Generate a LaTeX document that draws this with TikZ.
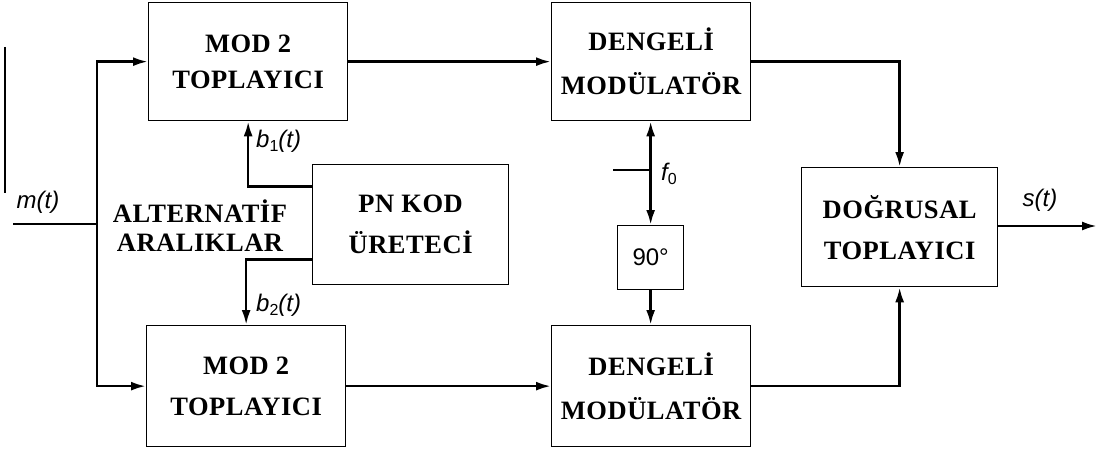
\documentclass[tikz,border=0pt]{standalone}
\usepackage{fontspec}
\setmainfont{Liberation Serif}
\newfontfamily\boxfont{Liberation Serif}[LetterSpace=2]
\newfontfamily\lab{Liberation Sans}
\usetikzlibrary{arrows.meta}
\begin{document}
\begin{tikzpicture}[x=1pt,y=-1pt,
  blk/.style={draw, line width=1.3pt, font=\boxfont\bfseries\fontsize{26.5}{41}\selectfont,
    align=center, inner sep=0pt, anchor=north west},
  wire/.style={line width=2.6pt},
  sig/.style={line width=2.6pt, -{Latex[length=15pt,width=9pt]}},
  lbl/.style={font=\lab\itshape\fontsize{24}{28}\selectfont, inner sep=0pt}]
\useasboundingbox (0,0) rectangle (1098,452);

% blocks
\node[blk, minimum width=199pt, minimum height=118pt] (m1) at (148,2) {MOD 2\\[-5pt]TOPLAYICI};
\node[blk, minimum width=199pt, minimum height=121pt] (m2) at (146,325) {MOD 2\\TOPLAYICI};
\node[blk, minimum width=196pt, minimum height=120pt] (pn) at (312,164) {PN KOD\\ÜRETECİ};
\node[blk, minimum width=199pt, minimum height=118pt] (d1) at (551,2) {DENGELİ\\[3pt]MODÜLATÖR};
\node[blk, minimum width=199pt, minimum height=121pt] (d2) at (551,325) {DENGELİ\\[3pt]MODÜLATÖR};
\node[blk, minimum width=196pt, minimum height=119pt] (dg) at (801,167) {DOĞRUSAL\\TOPLAYICI};
\node[draw, line width=1.3pt, anchor=north west, minimum width=66pt, minimum height=64pt,
  inner sep=0pt, font=\lab\fontsize{24}{28}\selectfont] (ph) at (617,225) {90°};

% side label
\node[font=\boxfont\bfseries\fontsize{26.5}{29}\selectfont, align=center, inner sep=0pt]
  (alt) at (200,226) {ALTERNATİF\\ARALIKLAR};

% stray mark at the left
\coordinate (s1) at (5,47);
\coordinate (s2) at (5,193);
\draw[line width=1.5pt] (s1) -- (s2);

% input
\coordinate (in) at (13,224);
\coordinate (br) at (97,224);
\draw[wire] (in) -- (br);
\draw[sig] (br) |- (m1.west);
\draw[sig] (br) |- (m2.west);
\node[lbl, anchor=south] (mt) at (38,214) {m(t)};

% PN to adders
\draw[sig] ([yshift=38pt]pn.west) -| (m1.south);
\draw[sig] ([yshift=-35pt]pn.west) -| (m2.north);
\node[lbl, anchor=west] (b1) at (256,141) {b\raisebox{-0.35ex}{\upshape\fontsize{16}{16}\selectfont 1}(t)};
\node[lbl, anchor=west] (b2) at (256,305) {b\raisebox{-0.35ex}{\upshape\fontsize{16}{16}\selectfont 2}(t)};

% adders to modulators
\draw[sig] (m1) -- (d1.west |- m1);
\draw[sig] (m2) -- (d2.west |- m2);

% carrier
\coordinate (f0s) at (613,170);
\coordinate (f0j) at (ph.north |- f0s);
\draw[wire] (f0s) -- (f0j);
\draw[sig] (f0j) -- (f0j |- d1.south);
\draw[sig] (f0j) -- (ph.north);
\draw[sig] (ph.south) -- (ph.south |- d2.north);
\node[lbl, anchor=west] (f0) at (661,174) {f\raisebox{-0.35ex}{\upshape\fontsize{16}{16}\selectfont 0}};

% modulators to linear adder
\draw[sig] (d1.east |- m1) -| (dg.north);
\draw[sig] (d2.east |- m2) -| (dg.south);

% output
\coordinate (out) at (1097,226);
\draw[sig] (dg.east |- out) -- (out);
\node[lbl, anchor=south] (st) at (1040,212) {s(t)};
\end{tikzpicture}
\end{document}
